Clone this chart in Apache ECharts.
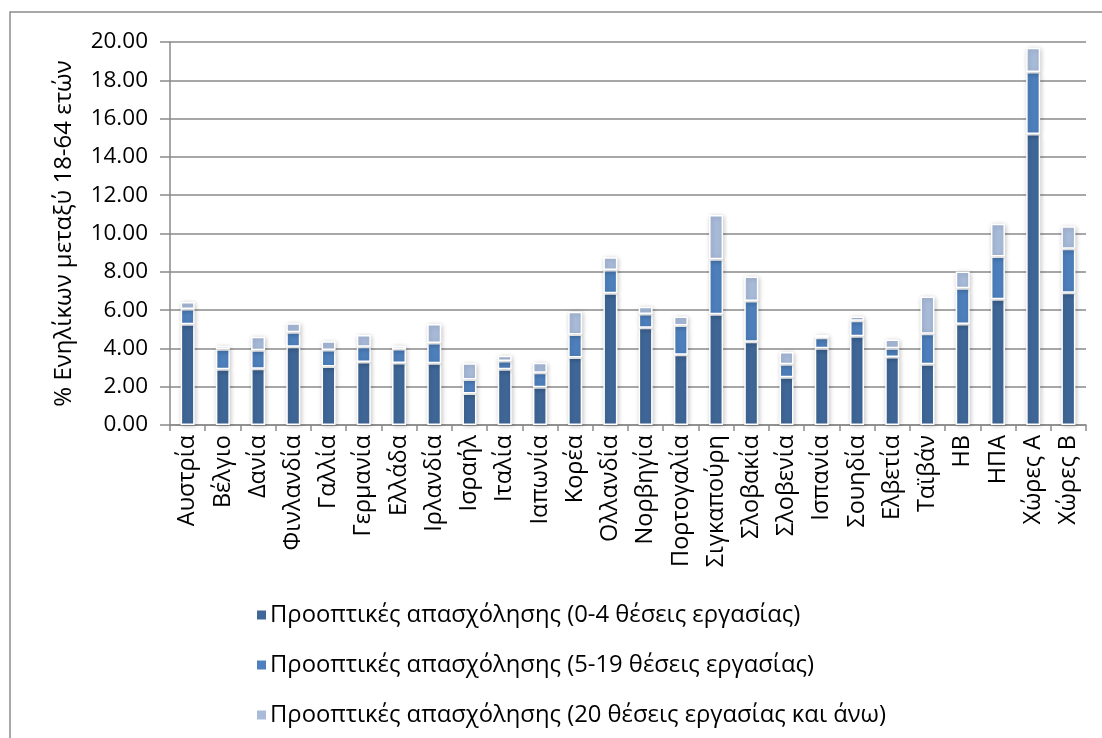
<!DOCTYPE html>
<html>
<head>
<meta charset="utf-8">
<script src="https://cdn.jsdelivr.net/npm/echarts@6/dist/echarts.min.js"></script>
<style>
html,body{margin:0;padding:0;background:#fff;}
#c{width:1102px;height:738px;}
</style>
</head>
<body>
<div id="c"></div>
<script>
const categories = ['Αυστρία','Βέλγιο','Δανία','Φινλανδία','Γαλλία','Γερμανία','Ελλάδα','Ιρλανδία','Ισραήλ','Ιταλία','Ιαπωνία','Κορέα','Ολλανδία','Νορβηγία','Πορτογαλία','Σιγκαπούρη','Σλοβακία','Σλοβενία','Ισπανία','Σουηδία','Ελβετία','Ταϊβάν','ΗΒ','ΗΠΑ','Χώρες Α','Χώρες Β'];
const seriesNames = ['Προοπτικές απασχόλησης (0-4 θέσεις εργασίας)','Προοπτικές απασχόλησης (5-19 θέσεις εργασίας)','Προοπτικές απασχόλησης (20 θέσεις εργασίας και άνω)'];
const jobs0to4 = [5.26,2.91,2.94,4.09,3.06,3.29,3.24,3.22,1.65,2.91,1.97,3.52,6.88,5.08,3.67,5.78,4.35,2.49,4.01,4.63,3.55,3.17,5.28,6.57,15.19,6.90];
const jobs5to19 = [0.80,1.04,0.96,0.75,0.86,0.80,0.73,1.06,0.72,0.43,0.76,1.21,1.21,0.72,1.52,2.87,2.13,0.68,0.54,0.82,0.46,1.60,1.86,2.23,3.24,2.30];
const jobs20plus = [0.36,0.17,0.71,0.47,0.45,0.61,0.17,0.99,0.85,0.28,0.52,1.19,0.67,0.38,0.47,2.32,1.27,0.64,0.15,0.21,0.45,1.94,0.87,1.71,1.27,1.18];
const yTicks = {min:0, max:20, interval:2};
const yAxisName = '% Ενηλίκων μεταξύ 18-64 ετών';

const colors = ['#3F6797','#4E80BD','#A8BBD9'];
const FONT = '"Open Sans", "Noto Sans", sans-serif';
const gridColor = '#8A8A8A';

const chart = echarts.init(document.getElementById('c'), null, {renderer:'canvas'});
const dataSets = [jobs0to4, jobs5to19, jobs20plus];
chart.setOption({
  animation:false,
  color: colors,
  textStyle:{fontFamily:FONT},
  graphic:[{type:'rect', shape:{x:10,y:12,width:1200,height:1000}, style:{fill:'none', stroke:'#8C8C8C', lineWidth:1.5}, silent:true}],
  grid:{left:170, right:16, top:42, bottom:313, containLabel:false},
  legend:{
    orient:'vertical', left:250, top:598, itemGap:26, itemWidth:11, itemHeight:11, icon:'rect',
    textStyle:{fontSize:23.8, color:'#000', fontFamily:FONT, padding:[0,0,0,-2]},
    data: seriesNames
  },
  xAxis:{
    type:'category', data:categories, boundaryGap:true,
    axisLine:{lineStyle:{color:gridColor, width:1.5}},
    axisTick:{show:true, alignWithLabel:false, length:6, lineStyle:{color:gridColor, width:1.5}},
    axisLabel:{rotate:90, interval:0, fontSize:23.5, color:'#000', margin:10, fontFamily:FONT}
  },
  yAxis:{
    type:'value', min:yTicks.min, max:yTicks.max, interval:yTicks.interval,
    name:yAxisName, nameLocation:'middle', nameGap:94, nameRotate:90,
    nameTextStyle:{fontSize:24, color:'#000', fontFamily:FONT},
    axisLine:{show:true, lineStyle:{color:gridColor, width:1.5}},
    axisTick:{show:true, length:10, lineStyle:{color:gridColor, width:1.5}},
    axisLabel:{fontSize:22.5, color:'#000', margin:22, fontFamily:FONT, formatter:v=>v.toFixed(2)},
    splitLine:{show:true, lineStyle:{color:gridColor, width:1.5}}
  },
  series: dataSets.map((d,i)=>({
    name: seriesNames[i], type:'bar', stack:'total', data:d, barWidth:14,
    itemStyle:{borderColor:'#fff', borderWidth:1.5, shadowBlur:5, shadowColor:'rgba(0,0,0,0.22)', shadowOffsetX:1, shadowOffsetY:1}
  }))
});
</script>
</body>
</html>
